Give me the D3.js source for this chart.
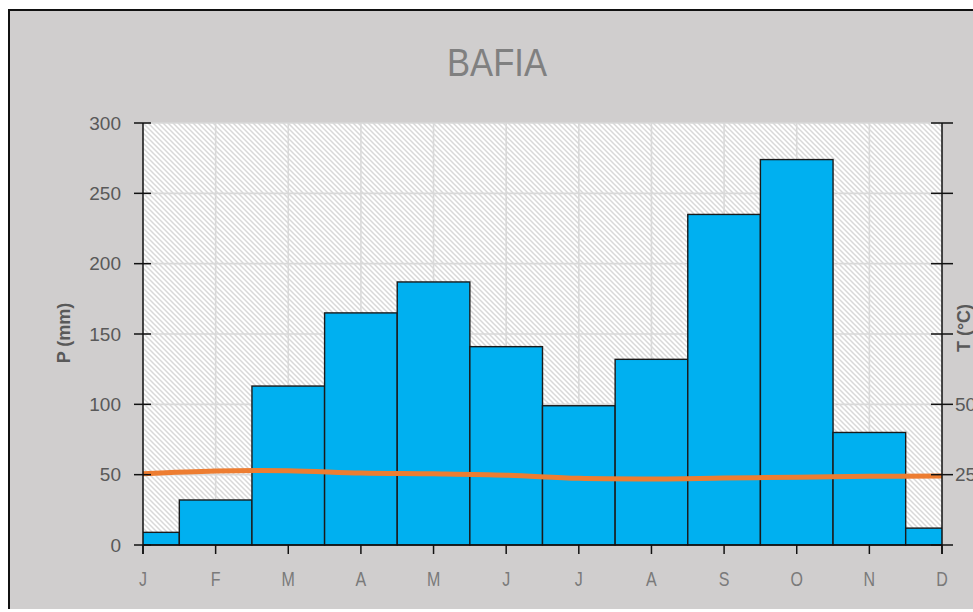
<!DOCTYPE html>
<html>
<head>
<meta charset="utf-8">
<script src="https://cdn.jsdelivr.net/npm/d3@7"></script>
<style>
  html, body { margin: 0; padding: 0; background: #ffffff; }
  svg { display: block; }
</style>
</head>
<body>
<svg id="chart" width="973" height="612"></svg>
<script>
// ---- data ----
const months = ["J","F","M","A","M","J","J","A","S","O","N","D"];
const precipitation = [9, 32, 113, 165, 187, 141, 99, 132, 235, 274, 80, 12];
const temperature = [25.3, 26.3, 26.4, 25.6, 25.3, 24.8, 23.7, 23.5, 23.8, 24.1, 24.4, 24.5];
const pTicks = [0, 50, 100, 150, 200, 250, 300];
const tTicks = [0, 25, 50, 75, 100, 125, 150];
const tTickLabels = [25, 50];
const title = "BAFIA";
const pTitle = "P (mm)";
const tTitle = "T (°C)";

// ---- layout ----
const svg = d3.select("#chart");
const L = 143, R = 942, T = 123, B = 545;

svg.append("rect").attr("x", 9).attr("y", 10).attr("width", 990).attr("height", 599)
  .attr("fill", "#D0CECE");
svg.append("line").attr("x1", 9).attr("x2", 9).attr("y1", 9).attr("y2", 609)
  .attr("stroke", "#111").attr("stroke-width", 2);
svg.append("line").attr("x1", 8).attr("x2", 973).attr("y1", 10).attr("y2", 10)
  .attr("stroke", "#111").attr("stroke-width", 2);

// hatch pattern
const defs = svg.append("defs");
const pat = defs.append("pattern").attr("id", "hatch")
  .attr("patternUnits", "userSpaceOnUse").attr("width", 5).attr("height", 5);
pat.append("rect").attr("width", 5).attr("height", 5).attr("fill", "#ffffff");
pat.append("path").attr("d", "M-1,-1 L6,6 M-1,4 L1,6 M4,-1 L6,1")
  .attr("stroke", "#d8d8d8").attr("stroke-width", 1.5);
defs.append("clipPath").attr("id", "plotclip").append("rect")
  .attr("x", L).attr("y", T - 2).attr("width", R - L).attr("height", B - T + 4);

// scales
const x = d3.scaleLinear().domain([0, months.length - 1]).range([L, R]);
const step = x(1) - x(0);
const y = d3.scaleLinear().domain([0, 300]).range([B, T]);
const yT = d3.scaleLinear().domain([0, 150]).range([B, T]);

// plot background
svg.append("rect").attr("x", L).attr("y", T).attr("width", R - L).attr("height", B - T)
  .attr("fill", "url(#hatch)");

// gridlines
const grid = svg.append("g");
grid.selectAll("line.h").data(pTicks.filter(d => d > 0)).join("line")
  .attr("x1", L).attr("x2", R).attr("y1", d => y(d)).attr("y2", d => y(d))
  .attr("stroke", "#d9d9d9").attr("stroke-width", 1.6);
grid.selectAll("line.v").data(d3.range(1, months.length - 1)).join("line")
  .attr("x1", d => x(d)).attr("x2", d => x(d)).attr("y1", T).attr("y2", B)
  .attr("stroke", "#d9d9d9").attr("stroke-width", 1.6);

// bars
svg.append("g").attr("clip-path", "url(#plotclip)")
  .selectAll("rect").data(precipitation).join("rect")
  .attr("x", (d, i) => x(i) - step / 2)
  .attr("width", step)
  .attr("y", d => y(d))
  .attr("height", d => B - y(d))
  .attr("fill", "#00B0F0")
  .attr("stroke", "#1a1a1a").attr("stroke-width", 1.4);

// temperature line
const line = d3.line().x((d, i) => x(i)).y(d => yT(d)).curve(d3.curveCatmullRom.alpha(0.5));
svg.append("path").datum(temperature).attr("d", line)
  .attr("fill", "none").attr("stroke", "#ED7D31").attr("stroke-width", 5);

// left axis
const axisColor = "#111";
svg.append("line").attr("x1", L).attr("x2", L).attr("y1", T).attr("y2", B + 9)
  .attr("stroke", axisColor).attr("stroke-width", 1.5);
svg.append("g").selectAll("line").data(pTicks).join("line")
  .attr("x1", L - 9).attr("x2", L + 8).attr("y1", d => y(d)).attr("y2", d => y(d))
  .attr("stroke", axisColor).attr("stroke-width", 1.5);
svg.append("g").selectAll("text").data(pTicks).join("text")
  .attr("x", 121).attr("y", d => y(d)).attr("dy", "0.35em")
  .attr("text-anchor", "end")
  .attr("font-family", "Liberation Sans, Arial, sans-serif").attr("font-size", 19)
  .attr("fill", "#595959").text(d => d);

// right axis
svg.append("line").attr("x1", R).attr("x2", R).attr("y1", T).attr("y2", B + 9)
  .attr("stroke", axisColor).attr("stroke-width", 1.5);
svg.append("g").selectAll("line").data(tTicks).join("line")
  .attr("x1", R - 11).attr("x2", R + 11).attr("y1", d => yT(d)).attr("y2", d => yT(d))
  .attr("stroke", axisColor).attr("stroke-width", 1.5);
svg.append("g").selectAll("text").data(tTickLabels).join("text")
  .attr("x", 955).attr("y", d => yT(d)).attr("dy", "0.35em")
  .attr("font-family", "Liberation Sans, Arial, sans-serif").attr("font-size", 19)
  .attr("fill", "#595959").text(d => d);

// bottom axis
svg.append("line").attr("x1", L).attr("x2", R).attr("y1", B).attr("y2", B)
  .attr("stroke", axisColor).attr("stroke-width", 1.5);
svg.append("g").selectAll("line").data(months).join("line")
  .attr("x1", (d, i) => x(i)).attr("x2", (d, i) => x(i)).attr("y1", B).attr("y2", B + 9)
  .attr("stroke", axisColor).attr("stroke-width", 1.5);
svg.append("g").selectAll("text").data(months).join("text")
  .attr("transform", (d, i) => `translate(${x(i)},586) scale(0.8,1)`)
  .attr("text-anchor", "middle")
  .attr("font-family", "Liberation Sans, Arial, sans-serif").attr("font-size", 20)
  .attr("fill", "#7a7a7a").text(d => d);

// axis titles
svg.append("text").attr("transform", `translate(70,333) rotate(-90)`)
  .attr("text-anchor", "middle")
  .attr("font-family", "Liberation Sans, Arial, sans-serif").attr("font-size", 18)
  .attr("font-weight", "bold").attr("fill", "#595959").text(pTitle);
svg.append("text").attr("transform", `translate(970,328) rotate(-90)`)
  .attr("text-anchor", "middle")
  .attr("font-family", "Liberation Sans, Arial, sans-serif").attr("font-size", 18)
  .attr("font-weight", "bold").attr("fill", "#595959").text(tTitle);

// title
svg.append("text").attr("x", 497).attr("y", 76)
  .attr("text-anchor", "middle")
  .attr("font-family", "Liberation Sans, Arial, sans-serif").attr("font-size", 38)
  .attr("textLength", 100).attr("lengthAdjust", "spacingAndGlyphs")
  .attr("fill", "#808080").text(title);
</script>
</body>
</html>
